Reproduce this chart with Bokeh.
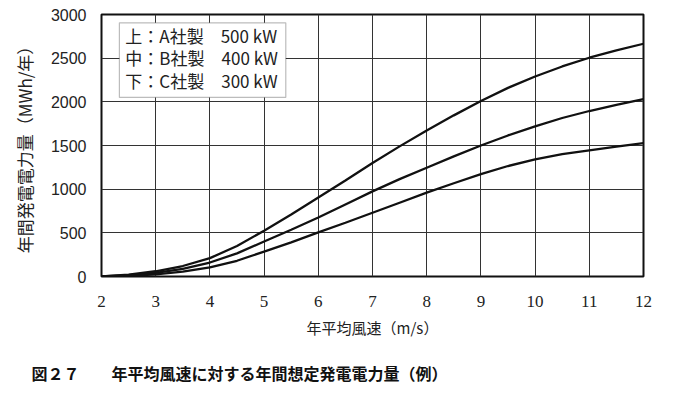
from bokeh.plotting import figure
from bokeh.models import Range1d, FixedTicker, Label, BoxAnnotation, ColumnDataSource, Title
from bokeh.embed import file_html
from bokeh.resources import INLINE

# ---- data ----
wind_speed = [2, 2.5, 3, 3.5, 4, 4.5, 5, 5.5, 6, 6.5, 7, 7.5, 8, 8.5, 9, 9.5, 10, 10.5, 11, 11.5, 12]
energy_a_500kw = [0, 22, 60, 120, 210, 350, 525, 710, 905, 1100, 1300, 1490, 1672, 1845, 2010, 2160, 2290, 2405, 2505, 2588, 2665]
energy_b_400kw = [0, 15, 42, 88, 160, 265, 400, 535, 675, 825, 975, 1115, 1245, 1375, 1500, 1615, 1720, 1815, 1895, 1965, 2030]
energy_c_300kw = [0, 6, 24, 55, 105, 180, 285, 390, 505, 615, 730, 845, 960, 1068, 1172, 1265, 1340, 1400, 1445, 1487, 1528]

x_ticks = [2, 3, 4, 5, 6, 7, 8, 9, 10, 11, 12]
y_ticks = [0, 500, 1000, 1500, 2000, 2500, 3000]

legend_lines = ["上：A社製　500 kW", "中：B社製　400 kW", "下：C社製　300 kW"]
y_title = "年間発電電力量（MWh/年）"
x_title = "年平均風速（m/s）"
caption = "図２７　　年平均風速に対する年間想定発電電力量（例）"

JP = "Noto Sans CJK JP"

p = figure(
    frame_width=542, frame_height=262,
    min_border_left=101, min_border_right=25, min_border_top=14, min_border_bottom=106,
    x_range=Range1d(2, 12), y_range=Range1d(0, 3000),
    output_backend="svg", toolbar_location=None,
)
p.background_fill_color = "white"
p.border_fill_color = "white"
p.outline_line_color = "#111111"
p.outline_line_width = 2

# grid
p.xgrid.ticker = FixedTicker(ticks=x_ticks)
p.ygrid.ticker = FixedTicker(ticks=y_ticks)
for g in (p.xgrid, p.ygrid):
    g.grid_line_color = "#333333"
    g.grid_line_width = 1

# axes
p.xaxis.ticker = FixedTicker(ticks=x_ticks)
p.yaxis.ticker = FixedTicker(ticks=y_ticks)
for ax in (p.xaxis[0], p.yaxis[0]):
    ax.axis_line_color = None
    ax.major_tick_line_color = None
    ax.minor_tick_line_color = None
    ax.major_tick_in = 0
    ax.major_tick_out = 0
    ax.major_label_text_color = "#222222"
    ax.axis_label_text_font = JP
    ax.axis_label_text_font_style = "normal"
    ax.axis_label_text_color = "#222222"
p.xaxis.major_label_text_font = "Liberation Serif"
p.xaxis.major_label_text_font_size = "17px"
p.xaxis.major_label_standoff = 19
p.yaxis.major_label_text_font = "Liberation Sans"
p.yaxis.major_label_text_font_size = "16px"
p.yaxis.major_label_standoff = 15

p.xaxis.axis_label = x_title
p.xaxis.axis_label_text_font_size = "15px"
p.xaxis.axis_label_standoff = 7
p.yaxis.axis_label = y_title
p.yaxis.axis_label_text_font_size = "17px"
p.yaxis.axis_label_standoff = 11

# curves
src = ColumnDataSource(dict(x=wind_speed, a=energy_a_500kw, b=energy_b_400kw, c=energy_c_300kw))
for col in ("a", "b", "c"):
    p.line("x", col, source=src, line_color="#111111", line_width=2.3)

# legend box (text panel)
p.add_layout(BoxAnnotation(left=2.33, right=5.40, bottom=2050, top=2905,
                           fill_color="white", fill_alpha=1.0,
                           line_color="#222222", line_width=1.2, level="overlay"))
for i, t in enumerate(legend_lines):
    p.add_layout(Label(x=2.44, y=2760 - i * 258, text=t, text_font=JP,
                       text_font_size="17px", text_color="#222222",
                       text_baseline="middle", level="overlay"))

# figure caption below the chart
cap = Title(text=caption, align="left", offset=-70, standoff=37,
            text_font=JP, text_font_size="16px", text_font_style="bold",
            text_color="#111111")
p.add_layout(cap, "below")

open("out.html", "w").write(file_html(p, INLINE))
